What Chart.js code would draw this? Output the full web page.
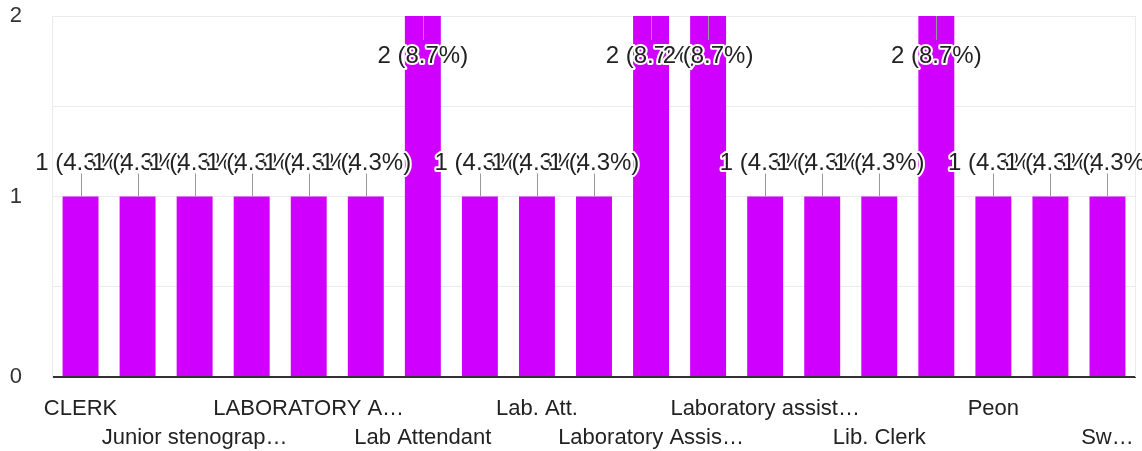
<!DOCTYPE html>
<html>
<head>
<meta charset="utf-8">
<script src="https://cdn.jsdelivr.net/npm/chart.js@4"></script>
<style>
  body { margin: 0; background: #fff; }
  #wrap { width: 1142px; height: 451px; }
</style>
</head>
<body>
<div id="wrap"><canvas id="jobChart"></canvas></div>
<script>
// Answers to the "post" question, one bar per distinct answer
const categories = [
  'CLERK', 'Clerk', 'Junior stenographer', 'Junior typist',
  'LABORATORY ASSISTANT', 'LABORATORY ATTENDANT', 'Lab Attendant', 'Lab assistant',
  'Lab. Att.', 'Lab. Attendant', 'Laboratory Assistant', 'Laboratory Attendant',
  'Laboratory assistant', 'Laboratory attendant', 'Lib. Clerk', 'Library Clerk',
  'Peon', 'Store Keeper', 'Sweeper'
];
const counts = [1, 1, 1, 1, 1, 1, 2, 1, 1, 1, 2, 2, 1, 1, 1, 2, 1, 1, 1];
// what the axis actually shows (every other label, truncated, on two rows)
const tickLabels = [
  'CLERK', '', 'Junior stenograp…', '', 'LABORATORY A…', '', 'Lab Attendant', '',
  'Lab. Att.', '', 'Laboratory Assis…', '', 'Laboratory assist…', '', 'Lib. Clerk', '',
  'Peon', '', 'Sw…'
];
const yTicks = [0, 1, 2];

const FONT = '"Liberation Sans", Arial, sans-serif';
const BAR_COLOR = '#d000ff';
const total = counts.reduce((a, b) => a + b, 0);

// Google-forms style annotations: "n (p%)" with a little stem, white halo
const annotationPlugin = {
  id: 'annotations',
  afterDatasetsDraw(chart) {
    const { ctx, chartArea } = chart;
    const meta = chart.getDatasetMeta(0);
    ctx.save();
    // frame of the plot area (light)
    ctx.strokeStyle = '#ebebeb';
    ctx.lineWidth = 1;
    ctx.beginPath();
    ctx.moveTo(Math.round(chartArea.right) - 0.5, chartArea.top);
    ctx.lineTo(Math.round(chartArea.right) - 0.5, chartArea.bottom);
    ctx.stroke();

    ctx.font = '24px ' + FONT;
    ctx.textAlign = 'center';
    ctx.textBaseline = 'middle';
    ctx.lineJoin = 'round';
    meta.data.forEach((bar, i) => {
      const v = counts[i];
      const text = v + ' (' + (v / total * 100).toFixed(1) + '%)';
      const x = Math.round(bar.x) + 0.5;
      const inside = bar.y - chartArea.top < 45;
      let ty;
      ctx.strokeStyle = '#999';
      ctx.lineWidth = 1;
      ctx.beginPath();
      if (inside) {
        ctx.moveTo(x, bar.y);
        ctx.lineTo(x, bar.y + 24);
        ty = bar.y + 40;
      } else {
        ctx.moveTo(x, bar.y);
        ctx.lineTo(x, bar.y - 23);
        ty = bar.y - 33;
      }
      ctx.stroke();
      ctx.strokeStyle = '#fff';
      ctx.lineWidth = 4;
      ctx.strokeText(text, bar.x, ty);
      ctx.fillStyle = '#222';
      ctx.fillText(text, bar.x, ty);
    });
    ctx.restore();
  }
};

new Chart(document.getElementById('jobChart'), {
  type: 'bar',
  data: {
    labels: categories,
    datasets: [{
      data: counts,
      backgroundColor: BAR_COLOR,
      borderWidth: 0,
      categoryPercentage: 1,
      barPercentage: 0.63
    }]
  },
  options: {
    responsive: true,
    maintainAspectRatio: false,
    animation: false,
    layout: { padding: { top: 16, right: 6, bottom: 0, left: 0 } },
    plugins: { legend: { display: false }, tooltip: { enabled: false } },
    scales: {
      x: {
        grid: { display: false, drawTicks: false },
        border: { display: false },
        afterFit: s => {
          s.height = 74;
          s.paddingLeft = 0;
          s.paddingRight = 0;
        },
        ticks: {
          autoSkip: false,
          maxRotation: 0,
          padding: 17,
          color: '#222',
          font: { family: FONT, size: 22, lineHeight: 1.32 },
          callback: (v, i) => {
            const t = tickLabels[i];
            if (!t) return '';
            return (i / 2) % 2 === 0 ? [t, ''] : ['', t];
          }
        }
      },
      y: {
        min: 0,
        max: 2,
        afterFit: s => {
          s.width = 52;
          s.paddingTop = 0;
          s.paddingBottom = 0;
        },
        border: { display: true, color: '#ebebeb' },
        grid: {
          drawTicks: false,
          color: c => c.tick.value === 0 ? '#333' : '#ebebeb',
          lineWidth: c => c.tick.value === 0 ? 2 : 1
        },
        ticks: {
          stepSize: 0.5,
          padding: 30,
          color: '#333',
          font: { family: FONT, size: 22 },
          callback: v => yTicks.includes(v) ? String(v) : ''
        }
      }
    }
  },
  plugins: [annotationPlugin]
});
</script>
</body>
</html>
